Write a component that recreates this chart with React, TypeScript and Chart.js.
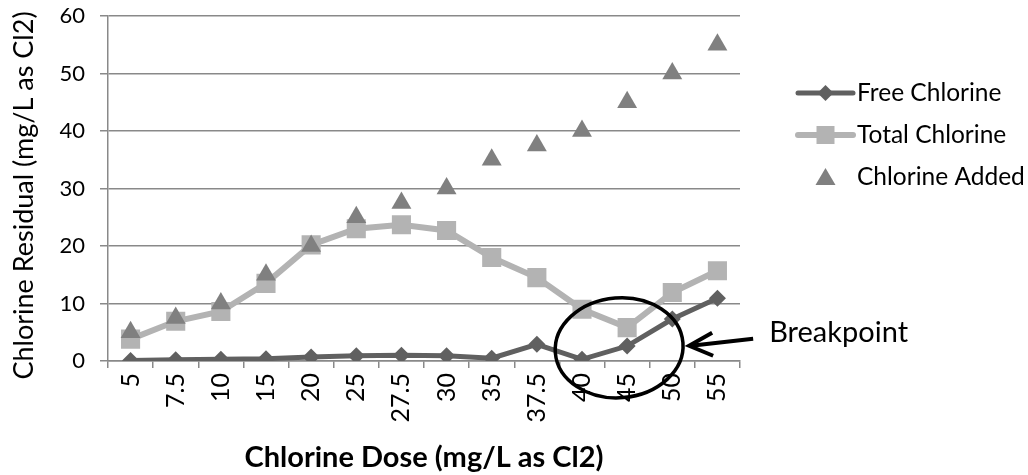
import { useEffect, useRef } from "react";
import { Chart, registerables } from "chart.js";
Chart.register(...registerables);

const doses = ["5", "7.5", "10", "15", "20", "25", "27.5", "30", "35", "37.5", "40", "45", "50", "55"];
const freeChlorine = [0.1, 0.2, 0.3, 0.4, 0.7, 0.9, 1.0, 0.9, 0.5, 2.9, 0.3, 2.6, 7.3, 10.9];
const totalChlorine = [3.8, 6.9, 8.6, 13.5, 20.2, 23.0, 23.7, 22.7, 18.0, 14.5, 9.0, 5.8, 11.9, 15.7];
const chlorineAdded = [5, 7.5, 10, 15, 20, 25, 27.5, 30, 35, 37.5, 40, 45, 50, 55];
const seriesNames = ["Free Chlorine", "Total Chlorine", "Chlorine Added"];
const yTitle = "Chlorine Residual (mg/L as Cl2)";
const xTitle = "Chlorine Dose (mg/L as Cl2)";
const yMin = 0;
const yMax = 60;
const yStep = 10;
const breakpointIndex = 11;
const breakpointValue = 2.3;

const FREE = "#606060";
const TOTAL = "#b3b3b3";
const ADDED = "#808080";
const GRID = "#898989";
const FONT = "Lato, 'Open Sans', sans-serif";

const overlayPlugin = {
  id: "overlay",
  afterDraw(chart: any) {
    const ctx = chart.ctx as CanvasRenderingContext2D;
    const area = chart.chartArea;
    const xs = chart.scales.x;
    const ys = chart.scales.y;
    ctx.save();
    // y axis title
    ctx.save();
    ctx.translate(24, (area.top + area.bottom) / 2 + 7);
    ctx.rotate(-Math.PI / 2);
    ctx.font = `27px ${FONT}`;
    ctx.fillStyle = "#000";
    ctx.textAlign = "center";
    ctx.textBaseline = "middle";
    ctx.fillText(yTitle, 0, 0);
    ctx.restore();

    // legend
    const lx0 = area.right + 58;
    const lx1 = area.right + 113;
    const lmid = (lx0 + lx1) / 2;
    const textX = area.right + 117;
    const rowY = (i: number) => area.top + 77 + i * 42;
    ctx.font = `24.5px ${FONT}`;
    ctx.textBaseline = "middle";
    ctx.textAlign = "left";
    // free
    let y = rowY(0);
    ctx.strokeStyle = FREE;
    ctx.lineWidth = 5;
    ctx.lineCap = "round";
    ctx.beginPath();
    ctx.moveTo(lx0, y);
    ctx.lineTo(lx1, y);
    ctx.stroke();
    ctx.fillStyle = FREE;
    ctx.beginPath();
    ctx.moveTo(lmid, y - 8);
    ctx.lineTo(lmid + 8, y);
    ctx.lineTo(lmid, y + 8);
    ctx.lineTo(lmid - 8, y);
    ctx.closePath();
    ctx.fill();
    ctx.fillStyle = "#000";
    ctx.fillText(seriesNames[0], textX, y);
    // total
    y = rowY(1);
    ctx.strokeStyle = TOTAL;
    ctx.lineWidth = 6;
    ctx.beginPath();
    ctx.moveTo(lx0, y);
    ctx.lineTo(lx1, y);
    ctx.stroke();
    ctx.fillStyle = TOTAL;
    ctx.fillRect(lmid - 9, y - 9, 18, 18);
    ctx.fillStyle = "#000";
    ctx.fillText(seriesNames[1], textX, y);
    // added
    y = rowY(2);
    ctx.fillStyle = ADDED;
    ctx.beginPath();
    ctx.moveTo(lmid, y - 9);
    ctx.lineTo(lmid + 10, y + 8);
    ctx.lineTo(lmid - 10, y + 8);
    ctx.closePath();
    ctx.fill();
    ctx.fillStyle = "#000";
    ctx.fillText(seriesNames[2], textX, y);

    // breakpoint annotation
    const cx = xs.getPixelForValue(breakpointIndex) - 8;
    const cy = ys.getPixelForValue(breakpointValue);
    const rx = 64;
    const ry = 50;
    ctx.strokeStyle = "#000";
    ctx.lineWidth = 3.5;
    ctx.beginPath();
    ctx.ellipse(cx, cy, rx, ry, -0.08, 0, Math.PI * 2);
    ctx.stroke();
    const tipX = cx + rx + 6;
    const tipY = cy - 2;
    const tailX = tipX + 64;
    const tailY = tipY - 7;
    ctx.lineWidth = 4;
    ctx.lineCap = "butt";
    ctx.beginPath();
    ctx.moveTo(tailX, tailY);
    ctx.lineTo(tipX + 2, tipY);
    ctx.stroke();
    ctx.beginPath();
    ctx.moveTo(tipX + 23, tipY - 13);
    ctx.lineTo(tipX, tipY);
    ctx.lineTo(tipX + 24, tipY + 10);
    ctx.stroke();
    ctx.fillStyle = "#000";
    ctx.font = `29px ${FONT}`;
    ctx.textBaseline = "middle";
    ctx.fillText("Breakpoint", tailX + 16, tipY - 13);
    ctx.restore();
  },
};

export default function App() {
  const ref = useRef<HTMLCanvasElement | null>(null);
  useEffect(() => {
    document.body.style.margin = "0";
    const canvas = ref.current!;
    const chart = new Chart(canvas, {
      type: "line",
      data: {
        labels: doses,
        datasets: [
          {
            label: seriesNames[0],
            data: freeChlorine,
            borderColor: FREE,
            backgroundColor: FREE,
            borderWidth: 5,
            pointStyle: "rectRot",
            pointRadius: 8.5,
            pointBorderWidth: 0,
            pointBackgroundColor: FREE,
            order: 1,
          },
          {
            label: seriesNames[1],
            data: totalChlorine,
            borderColor: TOTAL,
            backgroundColor: TOTAL,
            borderWidth: 6,
            pointStyle: "rect",
            pointRadius: 13.5,
            pointBorderWidth: 0,
            pointBackgroundColor: TOTAL,
            order: 2,
          },
          {
            label: seriesNames[2],
            data: chlorineAdded,
            borderColor: ADDED,
            backgroundColor: ADDED,
            showLine: false,
            pointStyle: "triangle",
            pointRadius: 11.5,
            pointBorderWidth: 0,
            pointBackgroundColor: ADDED,
            order: 0,
          },
        ],
      },
      options: {
        responsive: false,
        animation: false,
        layout: { padding: { top: 16, right: 288, bottom: 0, left: 0 } },
        plugins: { legend: { display: false }, tooltip: { enabled: false } },
        elements: { line: { tension: 0 } },
        scales: {
          x: {
            type: "category",
            offset: true,
            grid: {
              offset: true,
              drawOnChartArea: false,
              drawTicks: true,
              tickLength: 7,
              color: GRID,
              lineWidth: 1.5,
            },
            border: { color: GRID, width: 1.5 },
            ticks: {
              minRotation: 90,
              maxRotation: 90,
              autoSkip: false,
              color: "#000",
              padding: 5,
              font: { family: FONT, size: 25 },
            },
            title: {
              display: true,
              text: xTitle,
              color: "#000",
              font: { family: FONT, size: 29, weight: "bold" },
              padding: { top: 0, bottom: 0 },
            },
            afterFit: (s: any) => {
              s.height = 114;
              s.paddingLeft = 0;
              s.paddingRight = 0;
            },
          },
          y: {
            min: yMin,
            max: yMax,
            ticks: {
              stepSize: yStep,
              color: "#000",
              padding: 15,
              font: { family: FONT, size: 22 },
            },
            grid: { color: GRID, lineWidth: 1.5, tickLength: 8 },
            border: { color: GRID, width: 1.5 },
            title: { display: false },
            afterFit: (s: any) => {
              s.width = 108;
              s.paddingTop = 0;
              s.paddingBottom = 0;
            },
          },
        },
      },
      plugins: [overlayPlugin],
    } as any);
    return () => chart.destroy();
  }, []);
  return <canvas ref={ref} width={1028} height={475} style={{ display: "block" }} />;
}
